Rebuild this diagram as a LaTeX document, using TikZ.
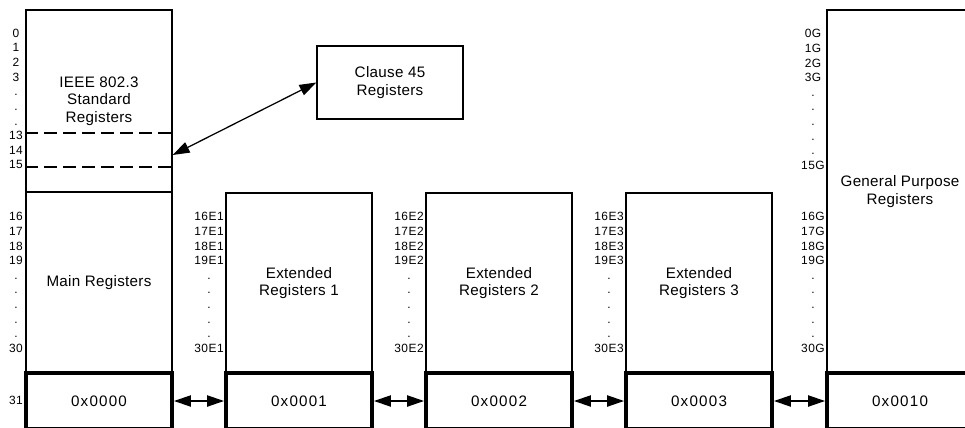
\documentclass[tikz,border=0pt]{standalone}
\usepackage{fontspec}
\setmainfont{Liberation Sans}
\newfontfamily\addrfam[LetterSpace=8]{Liberation Sans}
\newfontfamily\labfam[LetterSpace=4]{Liberation Sans}
\newfontfamily\regfam[LetterSpace=2]{Liberation Sans}
\newcommand{\regfont}{\regfam\fontsize{10.8}{12.5}\selectfont}
\newcommand{\labfont}{\labfam\fontsize{8.5}{10.4}\selectfont}
\newcommand{\addrfont}{\addrfam\fontsize{10.8}{12.5}\selectfont}
\usetikzlibrary{positioning, arrows.meta}

\begin{document}
\begin{tikzpicture}[
        x=0.025cm, y=-0.025cm, >={Triangle[length=12pt, width=8pt]},
        regbox/.style={rectangle, draw, line width=0.9pt, minimum width=3.65cm, inner sep=0pt, align=center, font=\regfont},
        addrbox/.style={rectangle, draw, line width=2.8pt, minimum width=3.65cm, minimum height=1.4cm, inner sep=0pt, font=\addrfont},
        numcol/.style={align=center, font=\labfont, inner sep=0pt},
        divider/.style={line width=1.8pt, dash pattern=on 9pt off 4.5pt},
        link/.style={<->, line width=0.9pt}
    ]
        \useasboundingbox (0,0) rectangle (965,427);

        % --- MAIN COLUMN ---
        \node[regbox, minimum height=4.55cm] (ieee) at (99, 101) {IEEE 802.3\\Standard\\Registers};
        \node[regbox, minimum height=4.525cm] (mainreg) at (99, 282.5) {Main Registers};
        \draw[divider] (ieee.west |- 0,133) -- (ieee.east |- 0,133);
        \draw[divider] (ieee.west |- 0,167) -- (ieee.east |- 0,167);

        \node[numcol] (lab0) at (16, 99) {0\\1\\2\\3\\.\\.\\.\\13\\14\\15};
        \node[numcol] (lab16) at (16, 282.5) {16\\17\\18\\19\\.\\.\\.\\.\\.\\30};
        \node[numcol] (lab31) at (16, 400) {31};

        % --- CLAUSE 45 ---
        \node[regbox, minimum height=1.825cm] (clause) at (390, 82.5) {Clause 45\\Registers};
        \coordinate (c45tip) at (ieee.east |- 0,155);

        % --- EXTENDED PAGES ---
        \node[regbox, minimum height=4.5cm] (ext1) at (299, 283) {Extended\\Registers 1};
        \node[regbox, minimum height=4.5cm] (ext2) at (499, 283) {Extended\\Registers 2};
        \node[regbox, minimum height=4.5cm] (ext3) at (699, 283) {Extended\\Registers 3};

        \node[numcol] (labe1) at (209, 282.5) {16E1\\17E1\\18E1\\19E1\\.\\.\\.\\.\\.\\30E1};
        \node[numcol] (labe2) at (409, 282.5) {16E2\\17E2\\18E2\\19E2\\.\\.\\.\\.\\.\\30E2};
        \node[numcol] (labe3) at (609, 282.5) {16E3\\17E3\\18E3\\19E3\\.\\.\\.\\.\\.\\30E3};

        % --- GENERAL PURPOSE ---
        \node[regbox, minimum height=9.075cm] (gp) at (900, 191.5) {General Purpose\\Registers};
        \node[numcol] (labg0) at (813, 99.5) {0G\\1G\\2G\\3G\\.\\.\\.\\.\\.\\15G};
        \node[numcol] (labg16) at (813, 282.5) {16G\\17G\\18G\\19G\\.\\.\\.\\.\\.\\30G};

        % --- PAGE ADDRESSES ---
        \node[addrbox] (addr0) at (99, 401) {0x0000};
        \node[addrbox] (addr1) at (299, 401) {0x0001};
        \node[addrbox] (addr2) at (499, 401) {0x0002};
        \node[addrbox] (addr3) at (699, 401) {0x0003};
        \node[addrbox] (addr10) at (900, 401) {0x0010};

        % --- CONNECTIONS ---
        \draw[link] (c45tip) -- (clause.west);
        \draw[link] (addr0) -- (addr1);
        \draw[link] (addr1) -- (addr2);
        \draw[link] (addr2) -- (addr3);
        \draw[link] (addr3) -- (addr10);

    \end{tikzpicture}
\end{document}
